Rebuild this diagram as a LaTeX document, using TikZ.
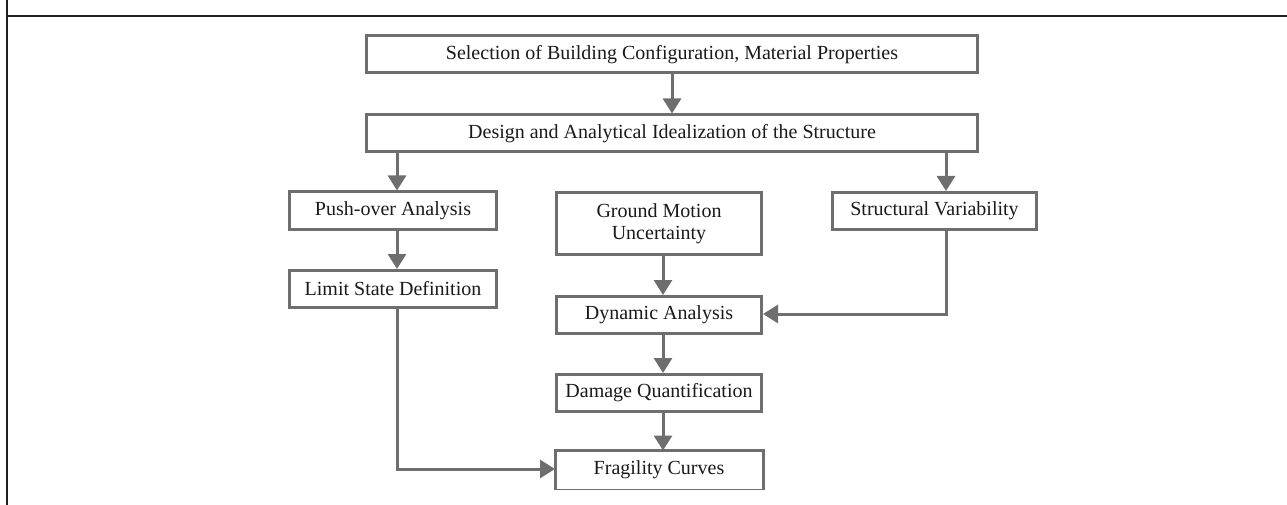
\documentclass[tikz,border=0pt]{standalone}
\usepackage{fontspec}
\setmainfont{Liberation Serif}
\usetikzlibrary{arrows.meta,calc}
\definecolor{boxgray}{HTML}{6E6E6E}
\definecolor{txt}{HTML}{1A1A1A}
\tikzset{
  fbox/.style={draw=boxgray, line width=3pt, fill=white, inner sep=0pt,
    text=txt, align=center, font=\fontsize{20}{22.5}\selectfont},
  conn/.style={draw=boxgray, line width=3pt,
    -{Triangle[width=18pt,length=15pt]}, color=boxgray},
  frameline/.style={draw=black!88, line width=2pt}
}
\begin{document}
\begin{tikzpicture}[x=1pt,y=-1pt]
\useasboundingbox (0,0) rectangle (1287,505);
% frame
\coordinate (ftop) at (7,0);
\coordinate (fbot) at (7,505);
\coordinate (hl) at (7,16);
\coordinate (hr) at (1287,16);
\draw[frameline] (ftop) -- (fbot);
\draw[frameline] (hl) -- (hr);
% boxes
\node[fbox, minimum width=611pt, minimum height=37pt] (B1) at (672,54.5) {Selection of Building Configuration, Material Properties};
\node[fbox, minimum width=611pt, minimum height=37pt] (B2) at (672,133.5) {Design and Analytical Idealization of the Structure};
\node[fbox, minimum width=207pt, minimum height=37pt] (P) at (393,210.5) {Push-over Analysis};
\node[fbox, minimum width=205pt, minimum height=62pt] (G) at (659,223.5) {Ground Motion\\Uncertainty};
\node[fbox, minimum width=204pt, minimum height=37pt] (S) at (934.5,211) {Structural Variability};
\node[fbox, minimum width=207pt, minimum height=37pt] (L) at (393,289) {Limit State Definition};
\node[fbox, minimum width=205pt, minimum height=37pt] (D) at (659,315) {Dynamic Analysis};
\node[fbox, minimum width=205pt, minimum height=37pt] (Q) at (659,393) {Damage Quantification};
\node[fbox, draw=none, minimum width=205pt, minimum height=36pt] (F) at (659,470) {Fragility Curves};
\draw[boxgray, line width=3pt] (F.south west) -- (F.north west) -- (F.north east) -- (F.south east);
\draw[boxgray, line width=1pt] (F.south west) -- (F.south east);
% connector guides
\coordinate (xl) at (397,0);
\coordinate (xm) at (663,0);
\coordinate (xr) at (946,0);
% connectors
\draw[conn] (B1.south) -- (B2.north);
\draw[conn] (B2.south -| xl) -- (P.north -| xl);
\draw[conn] (B2.south -| xr) -- (S.north -| xr);
\draw[conn] (P.south -| xl) -- (L.north -| xl);
\draw[conn] (G.south -| xm) -- (D.north -| xm);
\draw[conn] (D.south -| xm) -- (Q.north -| xm);
\draw[conn] (Q.south -| xm) -- (F.north -| xm);
\draw[conn] (S.south -| xr) |- ([yshift=1pt]D.east);
\draw[conn] (L.south -| xl) |- ([yshift=1pt]F.west);
\end{tikzpicture}
\end{document}
